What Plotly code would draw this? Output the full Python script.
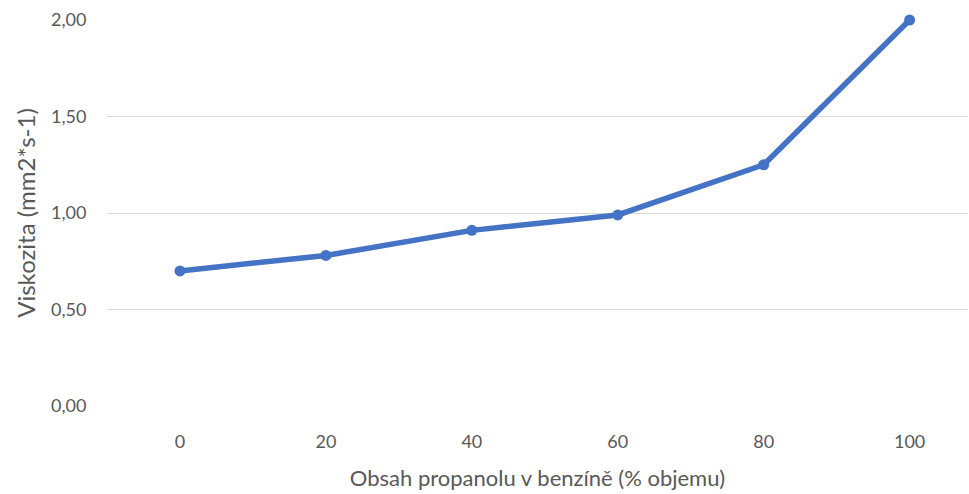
import plotly.graph_objects as go

# Propanol content in gasoline (% by volume) and measured kinematic viscosity
obsah = [0, 20, 40, 60, 80, 100]
viskozita = [0.70, 0.78, 0.91, 0.99, 1.25, 2.00]
y_ticks = [0, 0.5, 1.0, 1.5, 2.0]

idx = list(range(len(obsah)))

fig = go.Figure(
    go.Scatter(
        x=idx,
        y=viskozita,
        mode="lines+markers",
        line=dict(color="#4472C4", width=5.5),
        marker=dict(color="#4472C4", size=11),
        cliponaxis=False,
        showlegend=False,
    )
)

font_family = "Lato, Open Sans, sans-serif"
grey = "#595959"

fig.update_layout(
    width=969,
    height=494,
    margin=dict(l=107, r=1, t=20, b=88),
    paper_bgcolor="white",
    plot_bgcolor="white",
    separators=", ",
    font=dict(family=font_family, color=grey, size=18),
    xaxis=dict(
        range=[-0.5, 5.4],
        tickmode="array",
        tickvals=idx,
        ticktext=[str(v) for v in obsah],
        showgrid=False,
        zeroline=False,
        showline=False,
        ticks="outside",
        ticklen=19,
        tickcolor="rgba(0,0,0,0)",
        tickfont=dict(size=18, color=grey),
        title=dict(text="Obsah propanolu v benzíně (% objemu)",
                   font=dict(size=22, color=grey), standoff=20),
    ),
    yaxis=dict(
        range=[0, 2],
        tickmode="array",
        tickvals=y_ticks,
        tickformat=".2f",
        showgrid=True,
        gridcolor="#d9d9d9",
        gridwidth=1,
        zeroline=False,
        showline=False,
        ticks="outside",
        ticklen=16,
        tickcolor="rgba(0,0,0,0)",
        tickfont=dict(size=18, color=grey),
        title=dict(text="Viskozita (mm2*s-1)",
                   font=dict(size=24, color=grey), standoff=8),
    ),
)

fig.write_html("out.html")
